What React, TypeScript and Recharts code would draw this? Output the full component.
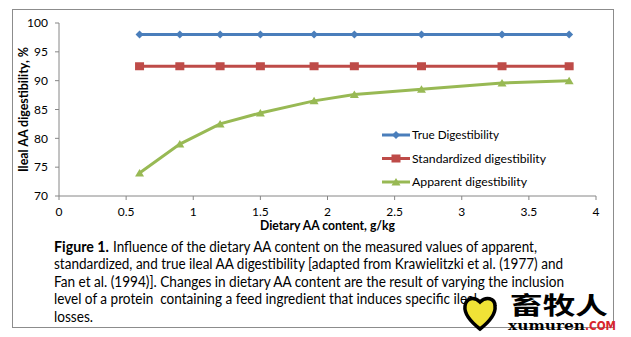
import React from 'react';
import { LineChart, Line, XAxis, YAxis, Legend } from 'recharts';

const xValues = [0.6, 0.9, 1.2, 1.5, 1.9, 2.2, 2.7, 3.3, 3.8];
const trueDigestibility = [98, 98, 98, 98, 98, 98, 98, 98, 98];
const standardizedDigestibility = [92.5, 92.5, 92.5, 92.5, 92.5, 92.5, 92.5, 92.5, 92.5];
const apparentDigestibility = [74, 79, 82.5, 84.4, 86.5, 87.6, 88.5, 89.6, 90];
const xTicks = [0, 0.5, 1, 1.5, 2, 2.5, 3, 3.5, 4];
const yTicks = [70, 75, 80, 85, 90, 95, 100];

const seriesNames = ['True Digestibility', 'Standardized digestibility', 'Apparent digestibility'];
const seriesColors = ['#4A7EBB', '#BE4B48', '#98B954'];

const captionLines = [
  'standardized, and true ileal AA digestibility [adapted from Krawielitzki et al. (1977) and',
  'Fan et al. (1994)]. Changes in dietary AA content are the result of varying the inclusion',
  'level of a protein  containing a feed ingredient that induces specific ileal',
  'losses.',
];
const captionWidths = [509, 510, 423, 39];

const data = xValues.map((x, i) => ({
  x,
  trueDig: trueDigestibility[i],
  stdDig: standardizedDigestibility[i],
  appDig: apparentDigestibility[i],
}));

const FONT = 'Lato, "Liberation Sans", sans-serif';
const AXIS = '#868686';

// marker shapes, same as excel 2007 defaults
const marker = (kind: string, cx: number, cy: number, color: string, key?: string) => {
  if (kind === 'diamond') {
    return <path key={key} d={`M${cx},${cy - 4}L${cx + 4},${cy}L${cx},${cy + 4}L${cx - 4},${cy}Z`} fill={color} />;
  }
  if (kind === 'square') {
    return <rect key={key} x={cx - 4.5} y={cy - 4} width={9} height={8} fill={color} />;
  }
  return <path key={key} d={`M${cx},${cy - 4}L${cx + 4.5},${cy + 3.5}L${cx - 4.5},${cy + 3.5}Z`} fill={color} />;
};

const kindOf: Record<string, string> = { trueDig: 'diamond', stdDig: 'square', appDig: 'triangle' };

const makeDot = (kind: string, color: string) => (props: any) =>
  marker(kind, props.cx, props.cy, color, `${kind}-${props.index}`);

const legendWidths = [87, 134, 115];

const renderLegend = (props: any) => {
  // keep the series order of the original legend
  const payload = [...(props.payload || [])].sort(
    (a: any, b: any) => seriesNames.indexOf(a.value) - seriesNames.indexOf(b.value)
  );
  return (
    <svg width={180} height={66}>
      {payload.map((entry: any, i: number) => {
        const cy = 9 + i * 23.5;
        return (
          <g key={entry.value}>
            <line x1={1} x2={29} y1={cy} y2={cy} stroke={entry.color} strokeWidth={3} />
            {marker(kindOf[entry.dataKey], 15, cy, entry.color)}
            <text x={31} y={cy + 4} fontFamily={FONT} fontSize={12} fill="#000"
              textLength={legendWidths[seriesNames.indexOf(entry.value)]} lengthAdjust="spacingAndGlyphs">
              {entry.value}
            </text>
          </g>
        );
      })}
    </svg>
  );
};

const XTitle = (props: any) => {
  const vb = props.viewBox;
  return (
    <text x={vb.x + vb.width / 2} y={vb.y + 34} textAnchor="middle" fontFamily={FONT}
      fontWeight="bold" fontSize={13} textLength={135} lengthAdjust="spacingAndGlyphs">
      Dietary AA content, g/kg
    </text>
  );
};

const YTitle = (props: any) => {
  const vb = props.viewBox;
  const x = vb.x + 7.5;
  const y = vb.y + vb.height / 2;
  return (
    <text x={x} y={y} transform={`rotate(-90 ${x} ${y})`} textAnchor="middle" fontFamily={FONT}
      fontWeight="bold" fontSize={12.5} textLength={125} lengthAdjust="spacingAndGlyphs">
      Ileal AA digestibility, %
    </text>
  );
};

const App: React.FC = () => {
  const tickStyle = { fontFamily: FONT, fontSize: 12, fill: '#000' };
  return (
    <div style={{ position: 'absolute', left: 0, top: 0, width: 631, height: 337, background: '#fff' }}>
      <LineChart width={631} height={337} data={data} margin={{ top: 23, right: 35, bottom: 111, left: 20 }}>
        <XAxis
          dataKey="x"
          type="number"
          domain={[0, 4]}
          ticks={xTicks}
          stroke={AXIS}
          tickSize={4}
          tickMargin={7}
          height={30}
          tick={tickStyle}
          label={{ content: XTitle }}
        />
        <YAxis
          type="number"
          domain={[70, 100]}
          ticks={yTicks}
          stroke={AXIS}
          tickSize={4}
          tickMargin={7}
          width={39}
          tick={tickStyle}
          label={{ content: YTitle }}
        />
        <Legend
          layout="horizontal"
          verticalAlign="middle"
          align="center"
          content={renderLegend}
          wrapperStyle={{ left: 381, top: 126, width: 180, height: 66 }}
        />
        <Line dataKey="trueDig" name={seriesNames[0]} stroke={seriesColors[0]} strokeWidth={3}
          dot={makeDot('diamond', seriesColors[0])} activeDot={false} isAnimationActive={false} />
        <Line dataKey="stdDig" name={seriesNames[1]} stroke={seriesColors[1]} strokeWidth={3}
          dot={makeDot('square', seriesColors[1])} activeDot={false} isAnimationActive={false} />
        <Line dataKey="appDig" name={seriesNames[2]} stroke={seriesColors[2]} strokeWidth={3}
          dot={makeDot('triangle', seriesColors[2])} activeDot={false} isAnimationActive={false} />
      </LineChart>

      {/* frame, caption and watermark */}
      <svg width={631} height={337} style={{ position: 'absolute', left: 0, top: 0, pointerEvents: 'none' }}>
        <rect x={12.5} y={9.5} width={601} height={318} fill="none" stroke="#8c8c8c" strokeWidth={1} />
        <text x={54} y={251.5} fontFamily={FONT} fontWeight="bold" fontSize={14.5}
          textLength={55} lengthAdjust="spacingAndGlyphs">Figure 1.</text>
        <text x={113} y={251.5} fontFamily={FONT} fontSize={14.5} textLength={424} lengthAdjust="spacingAndGlyphs">
          Influence of the dietary AA content on the measured values of apparent,
        </text>
        {captionLines.map((line, i) => (
          <text key={i} x={54} y={269.1 + i * 17.6} fontFamily={FONT} fontSize={14.5}
            style={{ whiteSpace: 'pre' }} textLength={captionWidths[i]} lengthAdjust="spacingAndGlyphs">
            {line}
          </text>
        ))}
        <path d="M480,329 C471,322 464,314 465,306 C466,298 474,296 480,302 C486,296 495,298 495,306 C496,314 489,322 480,329 Z"
          fill="#F0E236" stroke="#000" strokeWidth={3.5} />
        <text x={510} y={313.5} fontFamily='"Noto Sans CJK SC", sans-serif' fontWeight="bold" fontSize={24}
          textLength={98} lengthAdjust="spacingAndGlyphs">畜牧人</text>
        <text x={508} y={329.5} fontFamily='"DejaVu Serif", serif' fontWeight="bold" fontSize={13}
          textLength={77} lengthAdjust="spacingAndGlyphs">xumuren</text>
        <text x={585} y={329.5} fontFamily='"DejaVu Sans", sans-serif' fontWeight="bold" fontSize={12}
          fill="#D8262C" textLength={31} lengthAdjust="spacingAndGlyphs">.COM</text>
      </svg>
    </div>
  );
};

export default App;
